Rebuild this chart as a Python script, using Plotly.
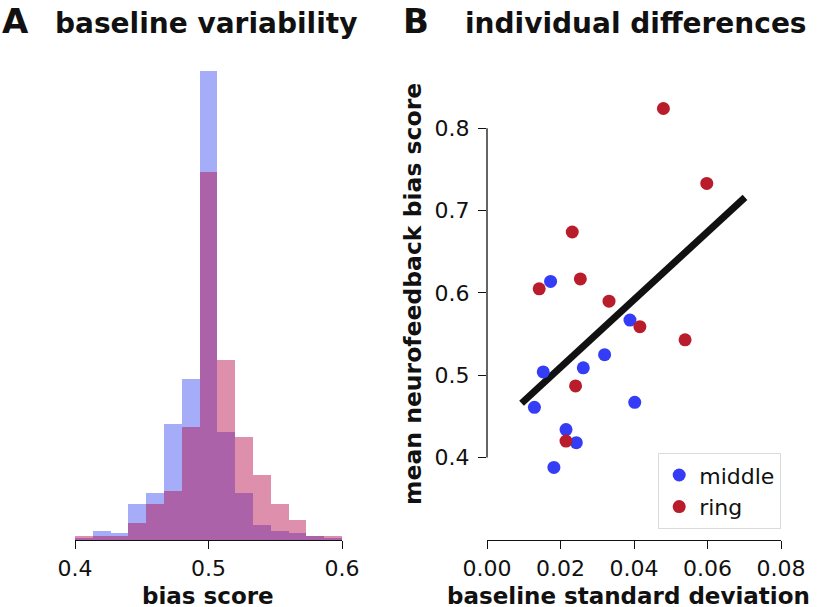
import numpy as np
import plotly.graph_objects as go

W, H = 819, 607

# ---------------- data ----------------
# Panel A: histogram of baseline bias scores (density), 15 bins over 0.4-0.6
hist_range = [0.4, 0.6]
n_bins = 15
middle_density = [0.12, 0.68, 0.48, 2.59, 3.38, 8.38, 11.62, 33.9, 7.80, 3.38, 1.09, 0.68, 0.48, 0.28, 0.12]
ring_density = [0.31, 0.31, 0.31, 1.26, 2.59, 3.55, 8.17, 26.6, 12.97, 7.42, 4.71, 2.59, 1.45, 0.31, 0.31]
hist_ticks = [0.4, 0.5, 0.6]
hist_ticklabels = ["0.4", "0.5", "0.6"]

# Panel B: individual differences
middle_sd = [0.0173, 0.0389, 0.0320, 0.0153, 0.0262, 0.0129, 0.0402, 0.0215, 0.0243, 0.0182]
middle_bias = [0.614, 0.567, 0.525, 0.504, 0.509, 0.461, 0.467, 0.434, 0.418, 0.388]
ring_sd = [0.0480, 0.0598, 0.0232, 0.0254, 0.0142, 0.0332, 0.0416, 0.0539, 0.0241, 0.0215]
ring_bias = [0.824, 0.733, 0.674, 0.617, 0.605, 0.590, 0.559, 0.543, 0.487, 0.420]
fit_sd = [0.0094, 0.0702]
fit_bias = [0.466, 0.716]
sd_ticks = [0.00, 0.02, 0.04, 0.06, 0.08]
sd_ticklabels = ["0.00", "0.02", "0.04", "0.06", "0.08"]
bias_ticks = [0.4, 0.5, 0.6, 0.7, 0.8]
bias_ticklabels = ["0.4", "0.5", "0.6", "0.7", "0.8"]

# ---------------- styles ----------------
FONT = "DejaVu Sans"
BLUE = "rgb(52,60,245)"
RED = "rgb(185,28,42)"
HIST_BLUE = "rgba(40,60,240,0.42)"
HIST_RED = "rgba(180,10,75,0.46)"

def px(x):
    return x / W

def py(y):
    return 1 - y / H

edges = np.linspace(hist_range[0], hist_range[1], n_bins + 1)
centers = (edges[:-1] + edges[1:]) / 2
bw = edges[1] - edges[0]

fig = go.Figure()

fig.add_trace(go.Bar(x=centers, y=middle_density, width=bw, marker=dict(color=HIST_BLUE, line=dict(width=0)),
                     xaxis="x", yaxis="y", showlegend=False, hoverinfo="skip"))
fig.add_trace(go.Bar(x=centers, y=ring_density, width=bw, marker=dict(color=HIST_RED, line=dict(width=0)),
                     xaxis="x", yaxis="y", showlegend=False, hoverinfo="skip"))

fig.add_trace(go.Scatter(x=fit_sd, y=fit_bias, mode="lines", line=dict(color="#111111", width=7),
                         xaxis="x2", yaxis="y2", showlegend=False, hoverinfo="skip"))
fig.add_trace(go.Scatter(x=middle_sd, y=middle_bias, mode="markers", name="middle",
                         marker=dict(color=BLUE, size=13, line=dict(width=0)), xaxis="x2", yaxis="y2"))
fig.add_trace(go.Scatter(x=ring_sd, y=ring_bias, mode="markers", name="ring",
                         marker=dict(color=RED, size=13, line=dict(width=0)), xaxis="x2", yaxis="y2"))

tickfont = dict(family=FONT, size=22, color="#111111")
common_x = dict(showgrid=False, zeroline=False, showline=True, linecolor="#111111", linewidth=1.3,
                ticks="outside", ticklen=8, tickwidth=1.3, tickcolor="#111111", tickfont=tickfont,
                automargin=False)

max_h = max(max(middle_density), max(ring_density))

fig.update_layout(
    width=W, height=H, autosize=False,
    margin=dict(l=0, r=0, t=0, b=0, pad=0, autoexpand=False),
    paper_bgcolor="white", plot_bgcolor="white",
    barmode="overlay", bargap=0,
    font=dict(family=FONT, color="#111111"),
    xaxis=dict(domain=[px(75), px(342)], range=hist_range, tickvals=hist_ticks, ticktext=hist_ticklabels,
               anchor="y", **common_x),
    yaxis=dict(domain=[py(540), py(70)], range=[0, max_h * 470 / 469.3], visible=False, anchor="x",
               automargin=False),
    xaxis2=dict(domain=[px(487), px(781)], range=[sd_ticks[0], sd_ticks[-1]], tickvals=sd_ticks,
                ticktext=sd_ticklabels, anchor="y2", **common_x),
    yaxis2=dict(domain=[py(540), py(90)], range=[0.2998, 0.8465], tickvals=bias_ticks, ticktext=bias_ticklabels,
                anchor="x2", showgrid=False, zeroline=False, showline=False, ticks="outside", ticklen=8,
                tickwidth=1.3, tickcolor="#111111", tickfont=tickfont, ticklabelstandoff=4, automargin=False),
    legend=dict(x=px(658), y=py(453), xanchor="left", yanchor="top", bgcolor="white",
                bordercolor="#d8dcdc", borderwidth=1.2, font=dict(family=FONT, size=22, color="#111111"),
                itemwidth=30, tracegroupgap=0),
    showlegend=True,
)

# trimmed y spine for panel B
fig.add_shape(type="line", xref="x2 domain", x0=0, x1=0, yref="y2", y0=min(bias_ticks), y1=max(bias_ticks),
              line=dict(color="#111111", width=1.3))

def ann(text, x, y, size, bold=True, xanchor="center", yanchor="middle", angle=0):
    fig.add_annotation(text=f"<b>{text}</b>" if bold else text, x=px(x), y=py(y), xref="paper", yref="paper",
                       showarrow=False, xanchor=xanchor, yanchor=yanchor, textangle=angle,
                       font=dict(family=FONT, size=size, color="#111111"))

ann("A", 0, 21, 34, xanchor="left")
ann("baseline variability", 206, 23, 28)
ann("B", 401, 21, 34, xanchor="left")
ann("individual differences", 636, 23, 28)
ann("bias score", 208, 596, 23)
ann("baseline standard deviation", 628, 596, 23)
ann("mean neurofeedback bias score", 413, 294, 23.5, angle=-90)

fig.write_html("out.html", config={"displayModeBar": False},
               post_script="document.body.style.margin='0';document.body.style.overflow='hidden';")
